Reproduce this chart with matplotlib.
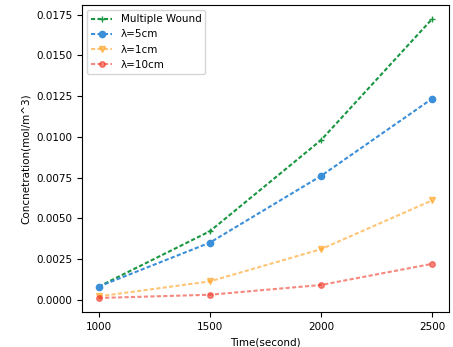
import matplotlib.pyplot as plt

# time points (seconds)
time = [1000, 1500, 2000, 2500]

# concentration values
multiple_wound = [0.0008, 0.0042, 0.0098, 0.01725]
lam_5cm = [0.0008, 0.0035, 0.0076, 0.01235]
lam_1cm = [0.0002, 0.00112, 0.0031, 0.0061]
lam_10cm = [0.0001, 0.0003, 0.0009, 0.0022]

plt.rcParams['font.size'] = 7.5

fig = plt.figure(figsize=(4.53, 3.47), dpi=100)
ax = fig.add_axes([0.181, 0.101, 0.81, 0.885])

dash = (2, 1.1)
ax.plot(time, multiple_wound, '--+', color='#1a9641', label='Multiple Wound',
        markersize=5, dashes=dash)
ax.plot(time, lam_5cm, '--o', color='#3b8fd9', label='λ=5cm', markersize=4.5,
        dashes=dash)
ax.plot(time, lam_1cm, '--v', color='#ff9f1c', alpha=0.6, label='λ=1cm',
        markersize=4.5, dashes=dash)
ax.plot(time, lam_10cm, '--o', color='#f03a2a', alpha=0.6, label='λ=10cm',
        markersize=4, dashes=dash)

ax.set_xticks([1000, 1500, 2000, 2500])
ax.set_xlabel('Time(second)')
ax.set_ylabel('Concnetration(mol/m^3)')
ax.legend(loc='upper left', handlelength=2.0)

fig.savefig('out.png', dpi=100)
